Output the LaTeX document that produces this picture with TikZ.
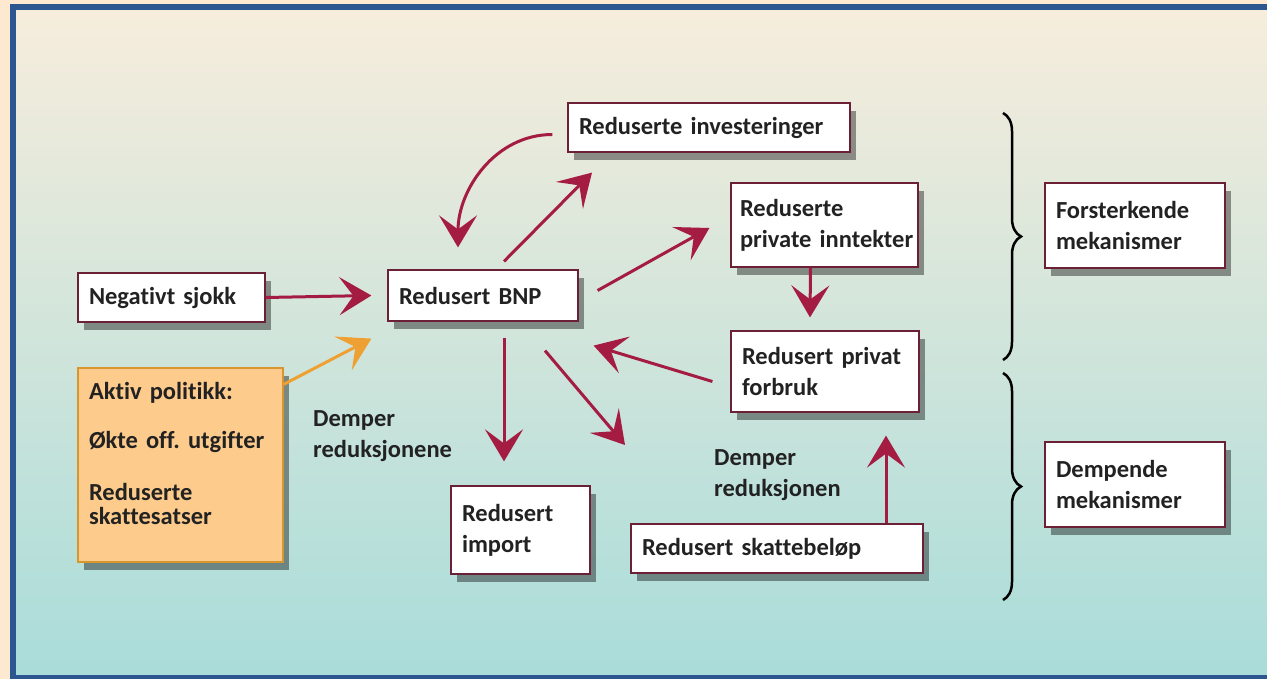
\documentclass[tikz,border=0pt]{standalone}
\usepackage{fontspec}
\setmainfont{Carlito}[WordSpace=0.55,Ligatures=NoCommon]
\usetikzlibrary{arrows.meta,shadows,decorations.pathreplacing}

\definecolor{peach}{HTML}{FDE9CF}
\definecolor{bgtop}{HTML}{F7EDDC}
\definecolor{bgbot}{HTML}{A9DCDA}
\definecolor{frameblue}{HTML}{2B5690}
\definecolor{boxline}{HTML}{6B2035}
\definecolor{linkred}{HTML}{A51C43}
\definecolor{polfill}{HTML}{FDCB8C}
\definecolor{polline}{HTML}{D9962E}
\definecolor{linkorange}{HTML}{EFA032}
\definecolor{txt}{HTML}{222222}

\begin{document}
\frenchspacing
\hyphenpenalty=10000
\begin{tikzpicture}[x=1pt,y=-1pt,
    font=\bfseries\fontsize{24.5}{31}\selectfont, text=txt,
    box/.style={draw=boxline,fill=white,line width=1.2pt,align=left,
      inner xsep=11pt,inner ysep=6pt,
      drop shadow={shadow xshift=6pt,shadow yshift=-8pt,opacity=.4,fill=black}},
    link/.style={draw=linkred,line width=3pt,
      -{Stealth[length=32pt,width=38pt,inset=14pt]}},
    note/.style={align=left,anchor=north west,inner sep=0pt}]

\useasboundingbox (0,0) rectangle (1267,679);
\clip (0,0) rectangle (1267,679);

% background and frame
\fill[peach] (0,0) rectangle (1267,679);
\shade[top color=bgtop,bottom color=bgbot] (13,7) rectangle (1267,678);
\draw[frameblue,line width=6pt] (1267,7) -- (13,7) -- (13,678) -- (1267,678);

% boxes
\node[box,text width=165pt,minimum height=49pt] (neg) at (171.5,297.5) {Negativt sjokk};
\node[box,text width=168pt,minimum height=51pt] (bnp) at (483,295.5) {Redusert BNP};
\node[box,text width=260pt,minimum height=49pt] (inv) at (709,127.5) {Reduserte investeringer};
\node[box,inner xsep=9pt,text width=169pt,minimum height=84pt] (inn) at (824.5,225)
  {Reduserte\\\mbox{private inntekter}};
\node[box,text width=166pt,minimum height=81pt] (forb) at (825,371.5) {Redusert privat\\forbruk};
\node[box,text width=117pt,minimum height=88pt] (imp) at (520.5,530) {Redusert\\import};
\node[box,text width=270pt,minimum height=49pt] (skatt) at (777,548.5) {Redusert skattebeløp};
\node[box,draw=polline,fill=polfill,text width=183pt,minimum height=194pt,
  font=\bfseries\fontsize{24.5}{24}\selectfont] (pol) at (180.5,465)
  {Aktiv politikk:\\[25pt]Økte off. utgifter\\[28pt]Reduserte\\skattesatser\\[0pt]\mbox{}};
\node[box,text width=158pt,minimum height=85pt] (fors) at (1135,225.5) {Forsterkende\\mekanismer};
\node[box,text width=158pt,minimum height=85pt] (demp) at (1135,484.5) {Dempende\\mekanismer};

% labels
\node[note] (dl) at (313,410) {Demper\\reduksjonene};
\node[note] (dr) at (714,449) {Demper\\reduksjonen};

% braces
\draw[line width=2.5pt,decorate,decoration={brace,amplitude=18pt}] (1003,113) -- (1003,360);
\draw[line width=2.5pt,decorate,decoration={brace,amplitude=18pt}] (1003,373) -- (1003,600);

% arrows
\coordinate (free) at (625,445);
\draw[link] (neg.east) -- ([xshift=-16pt]bnp.west);
\draw[link,draw=linkorange] ([yshift=-17pt]pol.north east) -- ([xshift=-16pt,yshift=-17pt]bnp.south west);
\draw[link] ([xshift=-15pt,yshift=-7pt]inv.west) to[out=180,in=90] ([xshift=-25pt,yshift=22pt]bnp.north);
\draw[link] ([xshift=21pt,yshift=8pt]bnp.north) -- ([xshift=-117pt,yshift=-20pt]inv.south);
\draw[link] ([xshift=19pt,yshift=5pt]bnp.east) -- ([xshift=-21pt,yshift=-3pt]inn.west);
\draw[link] ([xshift=-14pt]inn.south) -- ([xshift=-15pt,yshift=13pt]forb.north);
\draw[link] ([xshift=-18pt,yshift=-10pt]forb.west) -- ([xshift=15pt,yshift=-24pt]bnp.south east);
\draw[link] ([xshift=21pt,yshift=-16pt]bnp.south) -- ([xshift=-16.5pt,yshift=24pt]imp.north);
\draw[link] ([xshift=62pt,yshift=-29pt]bnp.south) -- (free);
\draw[link] ([xshift=109pt]skatt.north) -- ([xshift=61pt,yshift=-23pt]forb.south);

\end{tikzpicture}
\end{document}
